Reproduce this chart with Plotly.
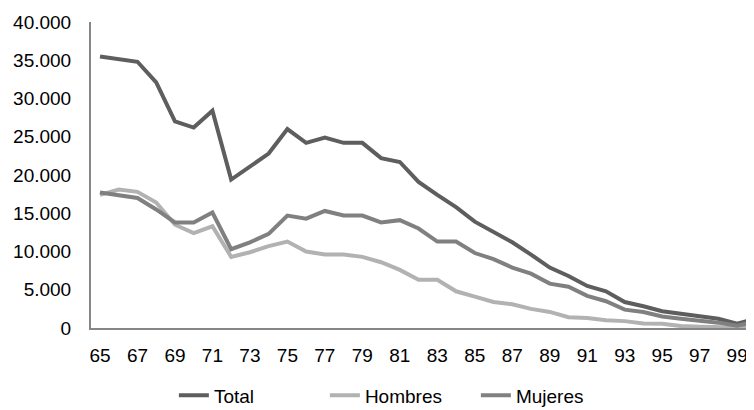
import plotly.graph_objects as go

edades = list(range(65, 101))

total = [35500, 35100, 34800, 32100, 27000, 26200, 28400, 19400, 21100, 22800,
         26000, 24200, 24900, 24200, 24200, 22200, 21700, 19100, 17400, 15800,
         13900, 12600, 11200, 9600, 7900, 6800, 5500, 4800, 3400, 2850,
         2200, 1850, 1550, 1200, 550, 1200]
hombres = [17400, 18100, 17800, 16400, 13500, 12400, 13300, 9300, 9900, 10700,
           11300, 10000, 9600, 9600, 9300, 8600, 7600, 6300, 6300, 4800,
           4100, 3400, 3100, 2500, 2100, 1400, 1300, 1000, 900, 600,
           550, 250, 150, 100, 50, 300]
mujeres = [17700, 17400, 17000, 15500, 13800, 13800, 15100, 10300, 11200, 12300,
           14700, 14300, 15300, 14700, 14700, 13800, 14100, 13000, 11300, 11300,
           9800, 9000, 7900, 7100, 5800, 5400, 4200, 3500, 2400, 2100,
           1500, 1200, 1000, 700, 300, 800]

series = [("Total", total, "#5e5e5e"),
          ("Hombres", hombres, "#b2b2b2"),
          ("Mujeres", mujeres, "#808080")]

fig = go.Figure()
for nombre, valores, color in series:
    fig.add_trace(go.Scatter(
        x=edades, y=valores, name=nombre, mode="lines",
        line=dict(color=color, width=4),
    ))

# la página deja 8px de margen en el body: la figura se achica para compensar
fig.update_layout(
    width=746, height=402,
    plot_bgcolor="white", paper_bgcolor="white",
    separators=",.",
    font=dict(family="Liberation Sans, Arial", size=19, color="#000000"),
    margin=dict(l=83, r=0, t=14, b=82, autoexpand=False),
    showlegend=True,
    legend=dict(orientation="h", x=0.125, xanchor="left",
                y=-0.22, yanchor="middle", entrywidth=106,
                bgcolor="rgba(0,0,0,0)", font=dict(size=19)),
    xaxis=dict(
        range=[64.52, 99.9], tickmode="array",
        tickvals=list(range(65, 100, 2)),
        showgrid=False, zeroline=False, automargin=False,
        showline=True, linecolor="#868686", linewidth=2,
        ticks="", ticklabelstandoff=9,
    ),
    yaxis=dict(
        range=[0, 40000], dtick=5000, tickformat=",d",
        showgrid=False, zeroline=False, automargin=False,
        showline=True, linecolor="#868686", linewidth=2,
        ticks="", ticklabelstandoff=14,
    ),
)

fig.write_html("out.html")
